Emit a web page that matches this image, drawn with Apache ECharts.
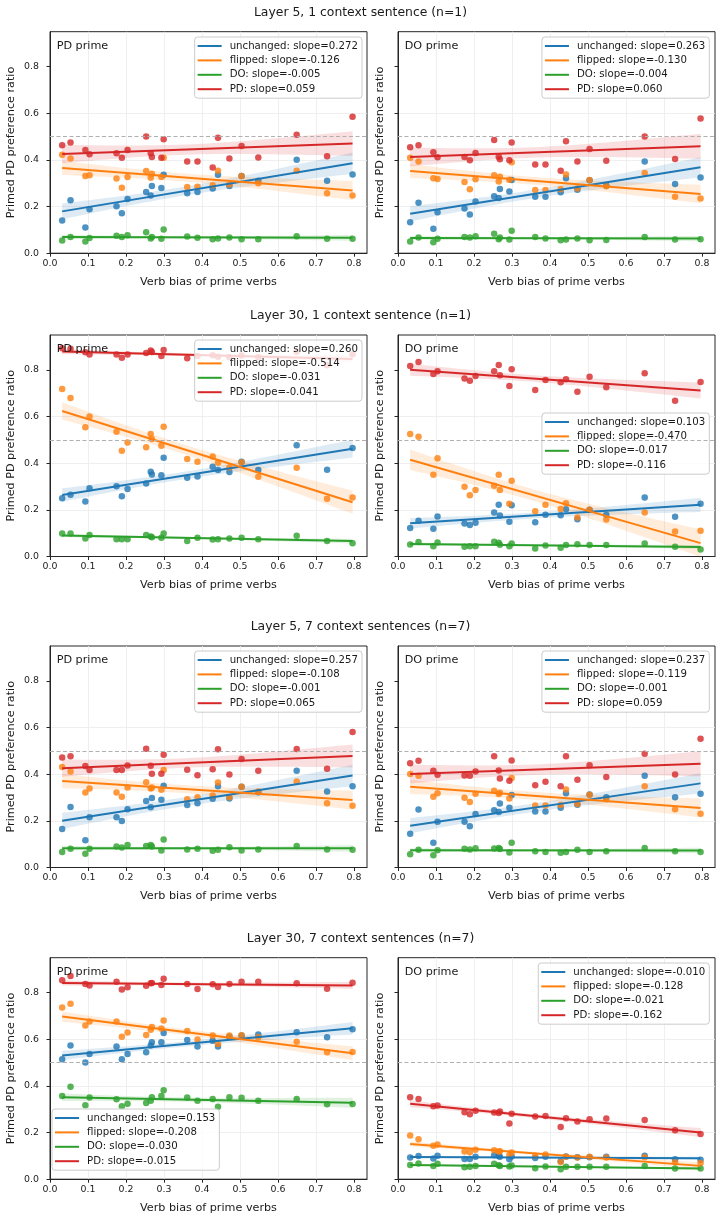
<!DOCTYPE html>
<html>
<head>
<meta charset="utf-8">
<script src="https://cdn.jsdelivr.net/npm/echarts@6/dist/echarts.min.js"></script>
<style>
  html, body { margin: 0; padding: 0; background: #fff; }
  #main { width: 721px; height: 1220px; }
</style>
</head>
<body>
<div id="main"></div>
<script>
// verb bias of the 22 prime verbs (x of every point)
var verbBias = [0.032, 0.054, 0.093, 0.104, 0.175, 0.189, 0.204, 0.253, 0.265, 0.268, 0.293, 0.299,
                0.361, 0.388, 0.428, 0.442, 0.472, 0.504, 0.548, 0.649, 0.729, 0.796];
var xTicks = [0, 0.1, 0.2, 0.3, 0.4, 0.5, 0.6, 0.7, 0.8];
var yTicks = [0, 0.2, 0.4, 0.6, 0.8];
var groups = ['unchanged', 'flipped', 'DO', 'PD'];
var rowTitles = ['Layer 5, 1 context sentence (n=1)', 'Layer 30, 1 context sentence (n=1)',
                 'Layer 5, 7 context sentences (n=7)', 'Layer 30, 7 context sentences (n=7)'];
var primeLabels = ['PD prime', 'DO prime'];

// Layer 5, n=1, PD prime
var l5c1PdUnchanged = [0.140, 0.227, 0.110, 0.188, 0.201, 0.171, 0.232, 0.262, 0.248, 0.288, 0.280, 0.337, 0.257, 0.262, 0.277, 0.337, 0.288, 0.331, 0.311, 0.401, 0.311, 0.338];
var l5c1PdFlipped   = [0.422, 0.406, 0.331, 0.334, 0.320, 0.281, 0.327, 0.353, 0.324, 0.341, 0.327, 0.409, 0.284, 0.285, 0.291, 0.354, 0.295, 0.331, 0.300, 0.354, 0.257, 0.248];
var l5c1PdDO        = [0.054, 0.070, 0.050, 0.065, 0.075, 0.070, 0.077, 0.090, 0.063, 0.070, 0.062, 0.102, 0.072, 0.066, 0.060, 0.063, 0.067, 0.060, 0.060, 0.073, 0.062, 0.062];
var l5c1PdPD        = [0.463, 0.475, 0.443, 0.424, 0.429, 0.409, 0.443, 0.500, 0.429, 0.413, 0.409, 0.489, 0.393, 0.393, 0.368, 0.495, 0.406, 0.460, 0.410, 0.508, 0.416, 0.585];
var l5c1PdSlopes    = ['0.272', '-0.126', '-0.005', '0.059'];

// Layer 5, n=1, DO prime
var l5c1DoUnchanged = [0.133, 0.216, 0.105, 0.176, 0.192, 0.166, 0.222, 0.244, 0.237, 0.275, 0.265, 0.314, 0.242, 0.242, 0.261, 0.321, 0.272, 0.313, 0.290, 0.393, 0.297, 0.325];
var l5c1DoFlipped   = [0.409, 0.393, 0.321, 0.318, 0.305, 0.274, 0.317, 0.334, 0.308, 0.328, 0.315, 0.390, 0.271, 0.271, 0.274, 0.338, 0.277, 0.314, 0.287, 0.344, 0.242, 0.235];
var l5c1DoDO        = [0.050, 0.067, 0.047, 0.062, 0.070, 0.067, 0.073, 0.083, 0.060, 0.067, 0.059, 0.096, 0.069, 0.063, 0.056, 0.059, 0.063, 0.056, 0.057, 0.070, 0.059, 0.060];
var l5c1DoPD        = [0.454, 0.463, 0.433, 0.411, 0.413, 0.399, 0.430, 0.485, 0.414, 0.403, 0.399, 0.475, 0.380, 0.380, 0.354, 0.480, 0.393, 0.447, 0.397, 0.500, 0.404, 0.578];
var l5c1DoSlopes    = ['0.263', '-0.130', '-0.004', '0.060'];

// Layer 30, n=1, PD prime
var l30c1PdUnchanged = [0.250, 0.265, 0.236, 0.293, 0.301, 0.258, 0.289, 0.313, 0.364, 0.352, 0.348, 0.424, 0.338, 0.343, 0.385, 0.371, 0.362, 0.406, 0.371, 0.477, 0.372, 0.465];
var l30c1PdFlipped   = [0.718, 0.680, 0.554, 0.600, 0.535, 0.454, 0.489, 0.469, 0.525, 0.504, 0.475, 0.557, 0.418, 0.406, 0.429, 0.402, 0.382, 0.404, 0.342, 0.381, 0.248, 0.253];
var l30c1PdDO        = [0.099, 0.099, 0.077, 0.092, 0.074, 0.074, 0.074, 0.092, 0.086, 0.083, 0.080, 0.099, 0.066, 0.080, 0.073, 0.074, 0.077, 0.080, 0.074, 0.089, 0.066, 0.057];
var l30c1PdPD        = [0.893, 0.891, 0.876, 0.866, 0.866, 0.852, 0.866, 0.873, 0.883, 0.877, 0.860, 0.886, 0.850, 0.860, 0.863, 0.857, 0.855, 0.862, 0.855, 0.878, 0.820, 0.867];
var l30c1PdSlopes    = ['0.260', '-0.514', '-0.031', '-0.041'];

// Layer 30, n=1, DO prime
var l30c1DoUnchanged = [0.122, 0.153, 0.119, 0.172, 0.142, 0.135, 0.145, 0.189, 0.222, 0.176, 0.149, 0.220, 0.147, 0.179, 0.177, 0.203, 0.160, 0.200, 0.179, 0.253, 0.170, 0.226];
var l30c1DoFlipped   = [0.525, 0.514, 0.351, 0.421, 0.299, 0.263, 0.285, 0.303, 0.351, 0.285, 0.226, 0.325, 0.194, 0.222, 0.204, 0.228, 0.167, 0.200, 0.159, 0.189, 0.107, 0.110];
var l30c1DoDO        = [0.052, 0.062, 0.044, 0.060, 0.042, 0.044, 0.044, 0.063, 0.059, 0.050, 0.044, 0.056, 0.034, 0.047, 0.037, 0.049, 0.053, 0.049, 0.049, 0.056, 0.042, 0.030];
var l30c1DoPD        = [0.817, 0.834, 0.783, 0.794, 0.763, 0.754, 0.774, 0.794, 0.821, 0.777, 0.731, 0.803, 0.714, 0.757, 0.747, 0.760, 0.707, 0.771, 0.726, 0.786, 0.668, 0.748];
var l30c1DoSlopes    = ['0.103', '-0.470', '-0.017', '-0.116'];

// Layer 5, n=7, PD prime
var l5c7PdUnchanged = [0.165, 0.259, 0.117, 0.215, 0.215, 0.199, 0.250, 0.285, 0.258, 0.298, 0.291, 0.351, 0.268, 0.276, 0.295, 0.349, 0.296, 0.346, 0.323, 0.415, 0.326, 0.349];
var l5c7PdFlipped   = [0.431, 0.412, 0.322, 0.339, 0.322, 0.303, 0.343, 0.366, 0.339, 0.343, 0.333, 0.418, 0.293, 0.301, 0.309, 0.365, 0.301, 0.346, 0.326, 0.369, 0.276, 0.265];
var l5c7PdDO        = [0.066, 0.080, 0.059, 0.080, 0.090, 0.086, 0.096, 0.092, 0.096, 0.090, 0.073, 0.120, 0.077, 0.080, 0.072, 0.076, 0.087, 0.073, 0.077, 0.092, 0.077, 0.076];
var l5c7PdPD        = [0.472, 0.477, 0.435, 0.418, 0.418, 0.418, 0.438, 0.509, 0.436, 0.402, 0.402, 0.484, 0.419, 0.396, 0.421, 0.507, 0.399, 0.465, 0.415, 0.508, 0.424, 0.581];
var l5c7PdSlopes    = ['0.257', '-0.108', '-0.001', '0.065'];

// Layer 5, n=7, DO prime
var l5c7DoUnchanged = [0.145, 0.249, 0.106, 0.196, 0.196, 0.177, 0.229, 0.246, 0.238, 0.275, 0.256, 0.311, 0.240, 0.240, 0.256, 0.318, 0.269, 0.313, 0.301, 0.394, 0.301, 0.316];
var l5c7DoFlipped   = [0.401, 0.394, 0.303, 0.318, 0.299, 0.281, 0.316, 0.329, 0.315, 0.321, 0.296, 0.384, 0.266, 0.266, 0.268, 0.335, 0.272, 0.312, 0.293, 0.349, 0.250, 0.230];
var l5c7DoDO        = [0.057, 0.076, 0.053, 0.074, 0.080, 0.077, 0.083, 0.082, 0.084, 0.079, 0.064, 0.106, 0.070, 0.067, 0.063, 0.066, 0.076, 0.067, 0.070, 0.084, 0.070, 0.067];
var l5c7DoPD        = [0.447, 0.458, 0.415, 0.398, 0.395, 0.394, 0.412, 0.477, 0.416, 0.382, 0.372, 0.459, 0.353, 0.368, 0.348, 0.477, 0.376, 0.439, 0.388, 0.488, 0.399, 0.552];
var l5c7DoSlopes    = ['0.237', '-0.119', '-0.001', '0.059'];

// Layer 30, n=7, PD prime
var l30c7PdUnchanged = [0.514, 0.573, 0.501, 0.537, 0.569, 0.514, 0.537, 0.544, 0.573, 0.587, 0.587, 0.627, 0.597, 0.569, 0.594, 0.569, 0.611, 0.616, 0.621, 0.630, 0.609, 0.643];
var l30c7PdFlipped   = [0.736, 0.753, 0.659, 0.676, 0.676, 0.611, 0.629, 0.619, 0.641, 0.653, 0.646, 0.681, 0.636, 0.599, 0.616, 0.580, 0.616, 0.617, 0.609, 0.590, 0.544, 0.546];
var l30c7PdDO        = [0.357, 0.397, 0.317, 0.350, 0.343, 0.313, 0.324, 0.327, 0.337, 0.351, 0.357, 0.381, 0.350, 0.337, 0.344, 0.311, 0.351, 0.349, 0.336, 0.344, 0.321, 0.323];
var l30c7PdPD        = [0.853, 0.871, 0.837, 0.831, 0.847, 0.814, 0.823, 0.830, 0.840, 0.841, 0.833, 0.860, 0.837, 0.816, 0.836, 0.824, 0.837, 0.847, 0.847, 0.840, 0.817, 0.843];
var l30c7PdSlopes    = ['0.153', '-0.208', '-0.030', '-0.015'];

// Layer 30, n=7, DO prime
var l30c7DoUnchanged = [0.093, 0.099, 0.089, 0.101, 0.087, 0.087, 0.096, 0.103, 0.099, 0.096, 0.086, 0.097, 0.091, 0.096, 0.077, 0.097, 0.094, 0.094, 0.096, 0.101, 0.086, 0.083];
var l30c7DoFlipped   = [0.187, 0.171, 0.143, 0.149, 0.119, 0.116, 0.126, 0.124, 0.119, 0.120, 0.104, 0.114, 0.101, 0.106, 0.074, 0.096, 0.093, 0.096, 0.093, 0.094, 0.073, 0.069];
var l30c7DoDO        = [0.061, 0.067, 0.057, 0.066, 0.051, 0.053, 0.057, 0.066, 0.060, 0.057, 0.054, 0.059, 0.047, 0.054, 0.043, 0.053, 0.053, 0.053, 0.053, 0.057, 0.046, 0.046];
var l30c7DoPD        = [0.351, 0.344, 0.313, 0.316, 0.287, 0.279, 0.294, 0.286, 0.284, 0.290, 0.239, 0.281, 0.269, 0.271, 0.224, 0.261, 0.247, 0.257, 0.260, 0.254, 0.210, 0.194];
var l30c7DoSlopes    = ['-0.010', '-0.128', '-0.021', '-0.162'];

var panels = [
  {values: [l5c1PdUnchanged, l5c1PdFlipped, l5c1PdDO, l5c1PdPD], slopes: l5c1PdSlopes},
  {values: [l5c1DoUnchanged, l5c1DoFlipped, l5c1DoDO, l5c1DoPD], slopes: l5c1DoSlopes},
  {values: [l30c1PdUnchanged, l30c1PdFlipped, l30c1PdDO, l30c1PdPD], slopes: l30c1PdSlopes},
  {values: [l30c1DoUnchanged, l30c1DoFlipped, l30c1DoDO, l30c1DoPD], slopes: l30c1DoSlopes},
  {values: [l5c7PdUnchanged, l5c7PdFlipped, l5c7PdDO, l5c7PdPD], slopes: l5c7PdSlopes},
  {values: [l5c7DoUnchanged, l5c7DoFlipped, l5c7DoDO, l5c7DoPD], slopes: l5c7DoSlopes},
  {values: [l30c7PdUnchanged, l30c7PdFlipped, l30c7PdDO, l30c7PdPD], slopes: l30c7PdSlopes},
  {values: [l30c7DoUnchanged, l30c7DoFlipped, l30c7DoDO, l30c7DoPD], slopes: l30c7DoSlopes}
];

// layout
var colors = ['#1f77b4', '#ff7f0e', '#2ca02c', '#d62728'];
var FONT = 'DejaVu Sans';
var colLeft = [50, 398];
var rowTop = [31.7, 335, 646, 957.7];
var gridW = 317, gridH = 221.5;
var legendPos = [
  {right: 359, top: 37}, {right: 11.7, top: 37},
  {right: 359, top: 340}, {right: 11.7, top: 413},
  {right: 359, top: 651}, {right: 11.7, top: 651},
  {left: 52, top: 1109}, {right: 11.7, top: 963}
];

// ordinary least squares + 95% CI of the mean
function fit(xs, ys) {
  var n = xs.length, mx = 0, my = 0, sxx = 0, sxy = 0, sse = 0, i;
  for (i = 0; i < n; i++) { mx += xs[i]; my += ys[i]; }
  mx /= n; my /= n;
  for (i = 0; i < n; i++) { sxx += (xs[i] - mx) * (xs[i] - mx); sxy += (xs[i] - mx) * (ys[i] - my); }
  var b = sxy / sxx, a = my - b * mx;
  for (i = 0; i < n; i++) { var e = ys[i] - a - b * xs[i]; sse += e * e; }
  return {a: a, b: b, s: Math.sqrt(sse / (n - 2)), n: n, mx: mx, sxx: sxx};
}

var xmin = Math.min.apply(null, verbBias), xmax = Math.max.apply(null, verbBias);

var grids = [], xAxes = [], yAxes = [], series = [], legends = [], titles = [];

rowTitles.forEach(function (t, r) {
  titles.push({
    text: t, left: 'center', top: rowTop[r] - 19.4 - 7.5, padding: 0,
    textStyle: {fontFamily: FONT, fontSize: 12.4, fontWeight: 'normal', color: '#1a1a1a', lineHeight: 15}
  });
});

panels.forEach(function (p, i) {
  var r = Math.floor(i / 2), c = i % 2;
  grids.push({
    left: colLeft[c], top: rowTop[r], width: gridW, height: gridH,
    show: true, borderColor: '#262626', borderWidth: 1, backgroundColor: 'transparent'
  });
  xAxes.push({
    type: 'value', gridIndex: i, min: 0, max: 0.834, interval: 0.1,
    name: 'Verb bias of prime verbs', nameLocation: 'middle', nameGap: 23,
    nameTextStyle: {fontFamily: FONT, fontSize: 11.2, color: '#1a1a1a'},
    axisLine: {show: true, lineStyle: {color: '#262626'}},
    axisTick: {show: true, length: 3.5, customValues: xTicks, lineStyle: {color: '#262626'}},
    axisLabel: {fontFamily: FONT, fontSize: 9.4, color: '#1a1a1a', margin: 6, customValues: xTicks,
                formatter: function (v) { return v.toFixed(1); }},
    splitLine: {show: true, showMinLine: false, showMaxLine: false, lineStyle: {color: '#ebebeb', width: 0.8}}
  });
  yAxes.push({
    type: 'value', gridIndex: i, min: 0, max: 0.95, interval: 0.2,
    name: 'Primed PD preference ratio', nameLocation: 'middle', nameGap: c === 0 ? 33 : 12,
    nameTextStyle: {fontFamily: FONT, fontSize: 11.2, color: '#1a1a1a'},
    axisLine: {show: true, lineStyle: {color: '#262626'}},
    axisTick: {show: true, length: 3.5, customValues: yTicks, lineStyle: {color: '#262626'}},
    axisLabel: {show: c === 0, fontFamily: FONT, fontSize: 9.4, color: '#1a1a1a', margin: 11, customValues: yTicks,
                formatter: function (v) { return v.toFixed(1); }},
    splitLine: {show: true, showMinLine: false, showMaxLine: false, lineStyle: {color: '#ebebeb', width: 0.8}}
  });
  titles.push({
    text: primeLabels[c], left: colLeft[c] + 6.7, top: rowTop[r] + 7, padding: 0,
    textStyle: {fontFamily: FONT, fontSize: 11.2, fontWeight: 'normal', color: '#1a1a1a', lineHeight: 14}
  });

  var names = [];
  p.values.forEach(function (ys, g) {
    var color = colors[g];
    var f = fit(verbBias, ys);
    var label = groups[g] + ': slope=' + p.slopes[g];
    names.push(label);

    series.push({
      type: 'scatter', name: 'pts', xAxisIndex: i, yAxisIndex: i, z: 2,
      symbolSize: 6.5, itemStyle: {color: color, opacity: 0.8},
      data: verbBias.map(function (x, k) { return [x, ys[k]]; }),
      silent: true
    });

    var upper = [], lower = [], steps = 40;
    for (var k = 0; k <= steps; k++) {
      var x = xmin + (xmax - xmin) * k / steps;
      var se = f.s * Math.sqrt(1 / f.n + (x - f.mx) * (x - f.mx) / f.sxx);
      var yh = f.a + f.b * x;
      upper.push([x, yh + 2.086 * se]);
      lower.unshift([x, yh - 2.086 * se]);
    }
    series.push({
      type: 'custom', name: 'band', xAxisIndex: i, yAxisIndex: i, z: 1, clip: true, silent: true,
      data: [[xmin, f.a + f.b * xmin]],
      renderItem: (function (poly, col) {
        return function (params, api) {
          return {
            type: 'polygon',
            shape: {points: poly.map(function (pt) { return api.coord(pt); })},
            style: {fill: col, opacity: 0.15}
          };
        };
      })(upper.concat(lower), color)
    });

    var line = {
      type: 'line', name: label, xAxisIndex: i, yAxisIndex: i, z: 3, color: color,
      symbol: 'none', silent: true,
      lineStyle: {width: 2, color: color},
      data: [[xmin, f.a + f.b * xmin], [xmax, f.a + f.b * xmax]]
    };
    if (g === 0) {
      line.markLine = {
        silent: true, symbol: ['none', 'none'], label: {show: false},
        lineStyle: {type: [4, 2.5], color: '#b0b0b0', width: 1},
        data: [{yAxis: 0.5}]
      };
    }
    series.push(line);
  });

  legends.push(Object.assign({
    data: names, orient: 'vertical', icon: 'rect', itemWidth: 24, itemHeight: 2, itemGap: 2.4,
    padding: [3, 4, 3, 3], backgroundColor: 'rgba(255,255,255,0.8)',
    borderColor: '#cccccc', borderWidth: 1, borderRadius: 3, selectedMode: false,
    textStyle: {fontFamily: FONT, fontSize: 10.2, color: '#1a1a1a', lineHeight: 12, padding: [0, 0, 0, 3]}
  }, legendPos[i]));
});

var chart = echarts.init(document.getElementById('main'));
chart.setOption({
  animation: false,
  backgroundColor: '#ffffff',
  textStyle: {fontFamily: FONT},
  title: titles,
  legend: legends,
  grid: grids,
  xAxis: xAxes,
  yAxis: yAxes,
  series: series
});
</script>
</body>
</html>
